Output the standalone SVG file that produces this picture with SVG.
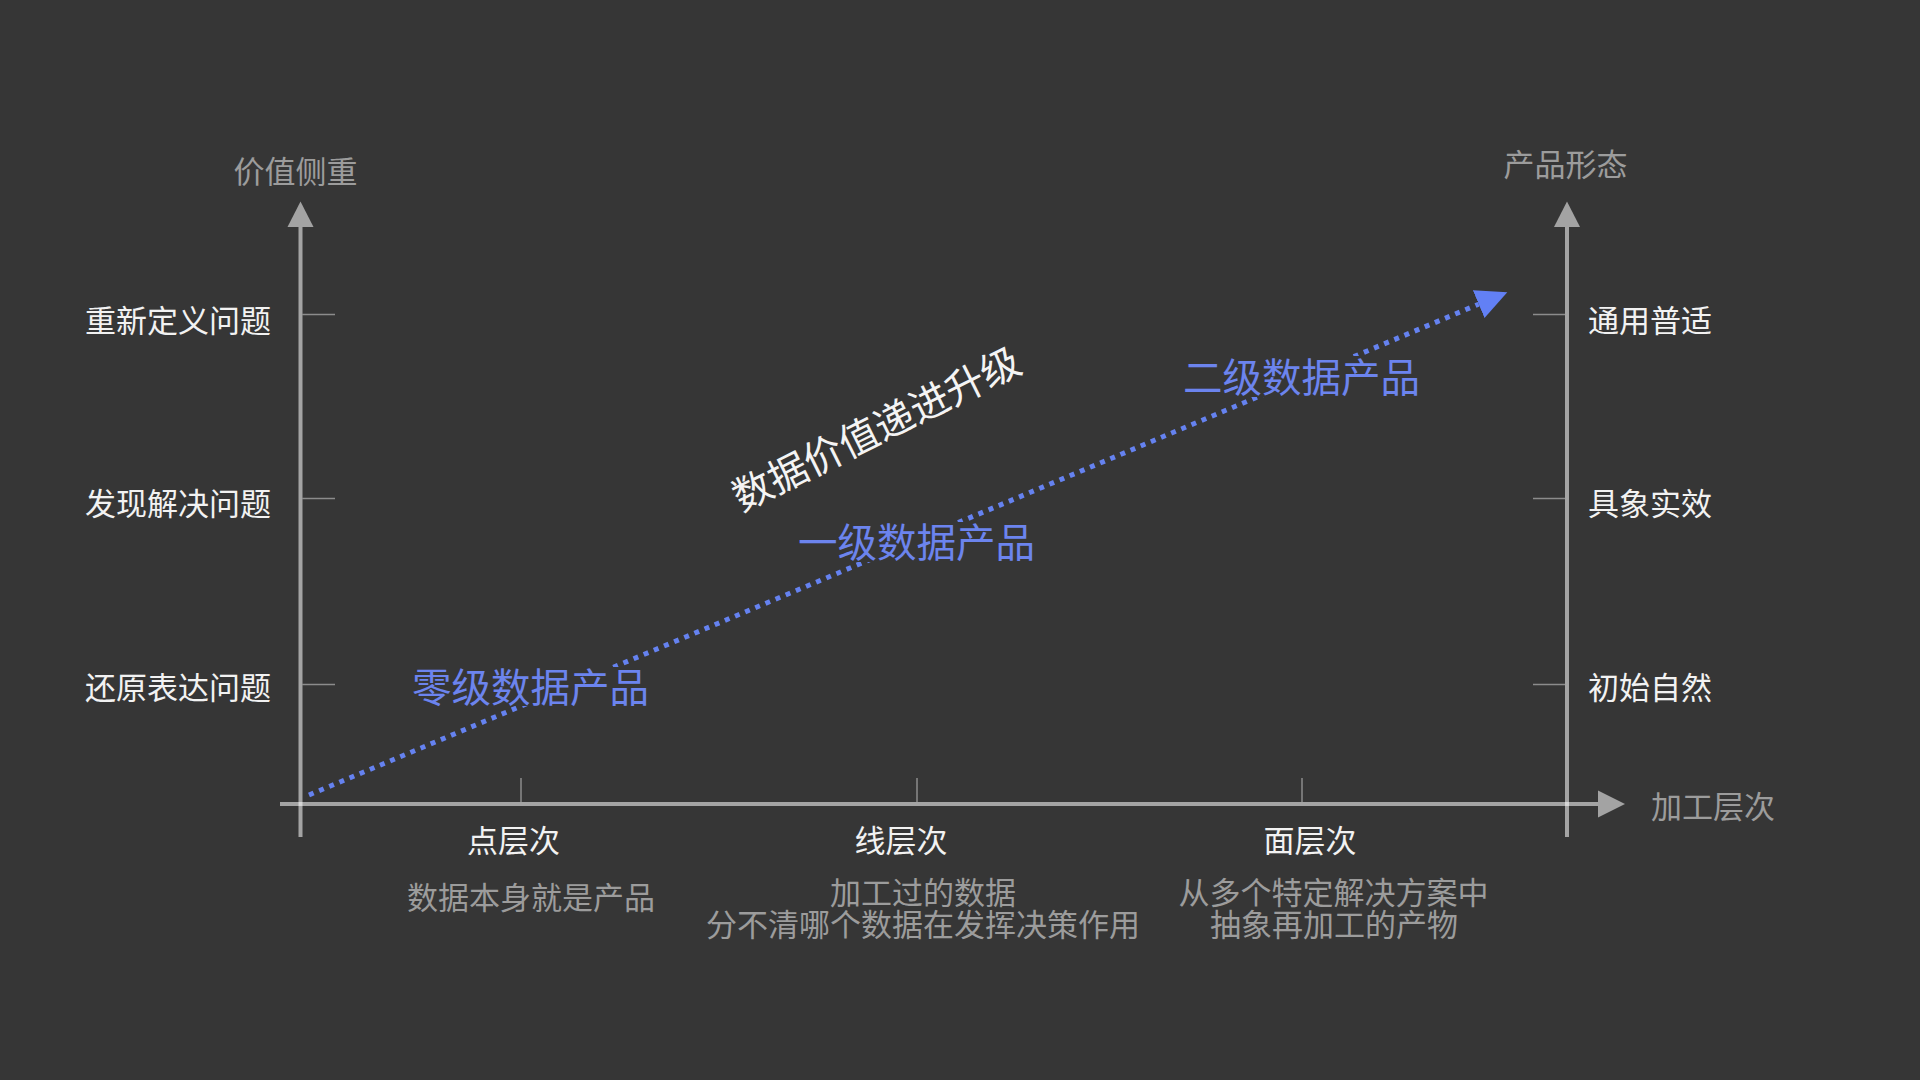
<svg xmlns="http://www.w3.org/2000/svg" width="1920" height="1080" viewBox="0 0 1920 1080">
  <defs>
    <style>
      text { font-family: "Noto Sans CJK SC", "Noto Sans", sans-serif; dominant-baseline: central; }
      .axis { stroke: #ffffff; stroke-opacity: 0.55; stroke-width: 4; fill: none; }
      .axhead { fill: #a3a3a3; }
      .tick { stroke: #8c8c8c; stroke-width: 1.5; }
      .title { fill: #9c9c9c; font-size: 31px; }
      .lbl { fill: #f2f2f2; font-size: 31px; }
      .desc { fill: #9c9c9c; font-size: 31px; text-anchor: middle; }
      .lvl { fill: #6c84ee; font-size: 39.5px; }
      .mask { fill: #363636; }
      .flow { stroke: #6582f0; stroke-width: 5; stroke-dasharray: 5 6; fill: none; }
    </style>
    <marker id="flowhead" markerUnits="userSpaceOnUse" markerWidth="32" markerHeight="32" viewBox="0 -16 32 32" refX="0" refY="0" orient="auto">
      <path d="M0,-15 L31,0 L0,15 Z" fill="#6280f5"/>
    </marker>
  </defs>
  <rect width="1920" height="1080" fill="#363636"/>

  <g id="axes">
    <line class="axis" x1="300.5" y1="226" x2="300.5" y2="837"/>
    <line class="axis" x1="1567" y1="226" x2="1567" y2="837"/>
    <line class="axis" x1="280" y1="804" x2="1599" y2="804"/>
    <polygon class="axhead" points="300.5,201.5 313.5,227 287.5,227"/>
    <polygon class="axhead" points="1567,201.5 1580,227 1554,227"/>
    <polygon class="axhead" points="1625,804 1598,790.5 1598,817.5"/>
    <line class="tick" x1="302" y1="314.5" x2="335" y2="314.5"/>
    <line class="tick" x1="302" y1="498.5" x2="335" y2="498.5"/>
    <line class="tick" x1="302" y1="684.5" x2="335" y2="684.5"/>
    <line class="tick" x1="1533" y1="314.5" x2="1565" y2="314.5"/>
    <line class="tick" x1="1533" y1="498.5" x2="1565" y2="498.5"/>
    <line class="tick" x1="1533" y1="684.5" x2="1565" y2="684.5"/>
    <line class="tick" x1="521" y1="778" x2="521" y2="802"/>
    <line class="tick" x1="917" y1="778" x2="917" y2="802"/>
    <line class="tick" x1="1302" y1="778" x2="1302" y2="802"/>
  </g>

  <g id="connectors">
    <line class="flow" x1="309" y1="795" x2="1478.7" y2="304.2" marker-end="url(#flowhead)"/>
  </g>

  <g id="axis-titles">
    <text class="title" x="295.5" y="169" text-anchor="middle">价值侧重</text>
    <text class="title" x="1565.5" y="162" text-anchor="middle">产品形态</text>
    <text class="title" x="1651" y="804">加工层次</text>
  </g>

  <g id="value-labels">
    <text class="lbl" x="271" y="318" text-anchor="end">重新定义问题</text>
    <text class="lbl" x="271" y="501.5" text-anchor="end">发现解决问题</text>
    <text class="lbl" x="271" y="685" text-anchor="end">还原表达问题</text>
  </g>

  <g id="form-labels">
    <text class="lbl" x="1588" y="318">通用普适</text>
    <text class="lbl" x="1588" y="501.5">具象实效</text>
    <text class="lbl" x="1588" y="685">初始自然</text>
  </g>

  <g id="level-point">
    <text class="lbl" x="513.5" y="838" text-anchor="middle">点层次</text>
    <text class="desc" x="531" y="895.5">数据本身就是产品</text>
  </g>
  <g id="level-line">
    <text class="lbl" x="901" y="838" text-anchor="middle">线层次</text>
    <text class="desc"><tspan x="923" y="890">加工过的数据</tspan><tspan x="923" y="922">分不清哪个数据在发挥决策作用</tspan></text>
  </g>
  <g id="level-plane">
    <text class="lbl" x="1310" y="838" text-anchor="middle">面层次</text>
    <text class="desc"><tspan x="1333.5" y="890">从多个特定解决方案中</tspan><tspan x="1334" y="922">抽象再加工的产物</tspan></text>
  </g>

  <g id="product-0">
    <rect class="mask" x="410" y="667" width="241" height="39"/>
    <text class="lvl" x="530.5" y="684" text-anchor="middle">零级数据产品</text>
  </g>
  <g id="product-1">
    <rect class="mask" x="796" y="522" width="240" height="40"/>
    <text class="lvl" x="916.5" y="539" text-anchor="middle">一级数据产品</text>
  </g>
  <g id="product-2">
    <rect class="mask" x="1181" y="356" width="240" height="41"/>
    <text class="lvl" x="1301.5" y="374" text-anchor="middle">二级数据产品</text>
  </g>

  <g id="trend-label">
    <text x="875" y="426" fill="#f4f4f4" font-size="39.5" text-anchor="middle" transform="rotate(-26.5 875 426)">数据价值递进升级</text>
  </g>
</svg>
